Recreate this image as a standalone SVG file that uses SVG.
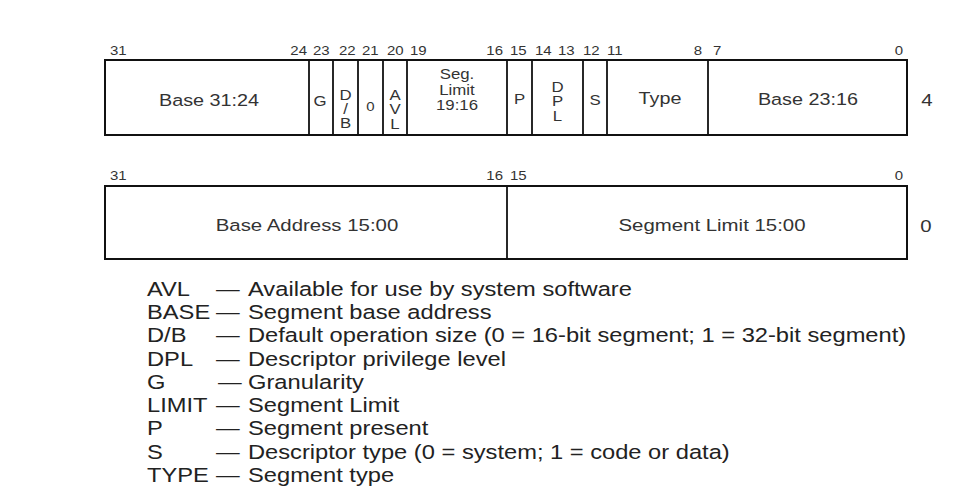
<svg xmlns="http://www.w3.org/2000/svg" width="966" height="495" viewBox="0 0 966 495">
<style>
.box{fill:#fff;stroke:#111;stroke-width:2}
.div{stroke:#111;stroke-width:1.8}
text{font-family:"Liberation Sans",Arial,sans-serif;fill:#333}
.bit{font-size:12.5px}
.lbl{font-size:16.5px;text-anchor:middle}
.sm{font-size:14px;text-anchor:middle}
.row{font-size:17px;text-anchor:middle}
.e{text-anchor:end}
.leg{font-size:19.5px;fill:#222}
</style>
<rect width="966" height="495" fill="#fff"/>
<g id="row4">
<rect class="box" x="105" y="60" width="802" height="75"/>
<g class="div">
<line x1="309" y1="60" x2="309" y2="135"/>
<line x1="333" y1="60" x2="333" y2="135"/>
<line x1="358" y1="60" x2="358" y2="135"/>
<line x1="383" y1="60" x2="383" y2="135"/>
<line x1="407" y1="60" x2="407" y2="135"/>
<line x1="507" y1="60" x2="507" y2="135"/>
<line x1="532" y1="60" x2="532" y2="135"/>
<line x1="583" y1="60" x2="583" y2="135"/>
<line x1="607" y1="60" x2="607" y2="135"/>
<line x1="708" y1="60" x2="708" y2="135"/>
</g>
</g>
<g id="row0">
<rect class="box" x="105" y="186" width="802" height="73"/>
<line class="div" x1="507" y1="186" x2="507" y2="259"/>
</g>
<g id="connectors"></g>
<g transform="scale(1.2 1)">
<g id="bits4">
<text class="bit" x="91.67" y="55">31</text>
<text class="bit e" x="255.83" y="55">24</text>
<text class="bit" x="260.83" y="55">23</text>
<text class="bit" x="282.5" y="55">22</text>
<text class="bit" x="301.67" y="55">21</text>
<text class="bit" x="322.5" y="55">20</text>
<text class="bit" x="341.67" y="55">19</text>
<text class="bit e" x="419.17" y="55">16</text>
<text class="bit" x="425" y="55">15</text>
<text class="bit" x="445.83" y="55">14</text>
<text class="bit" x="465" y="55">13</text>
<text class="bit" x="485.83" y="55">12</text>
<text class="bit" x="505.83" y="55">11</text>
<text class="bit e" x="585" y="55">8</text>
<text class="bit" x="594.17" y="55">7</text>
<text class="bit e" x="752.5" y="55">0</text>
</g>
<g id="bits0">
<text class="bit" x="91.67" y="180">31</text>
<text class="bit e" x="419.17" y="180">16</text>
<text class="bit" x="425" y="180">15</text>
<text class="bit e" x="752.5" y="180">0</text>
</g>
<g id="f-base3124"><text class="lbl" x="174.17" y="106">Base 31:24</text></g>
<g id="f-g"><text class="sm" x="266.67" y="106">G</text></g>
<g id="f-db"><text class="sm" x="287.92" y="100">D</text><text class="sm" x="287.92" y="114">/</text><text class="sm" x="287.92" y="128">B</text></g>
<g id="f-zero"><text class="bit" text-anchor="middle" x="308.75" y="111">0</text></g>
<g id="f-avl"><text class="sm" x="329.17" y="100">A</text><text class="sm" x="329.17" y="114.5">V</text><text class="sm" x="329.17" y="129">L</text></g>
<g id="f-seglimit"><text class="sm" x="380.83" y="79">Seg.</text><text class="sm" x="380.83" y="95">Limit</text><text class="sm" x="380.83" y="110">19:16</text></g>
<g id="f-p"><text class="sm" x="432.92" y="104">P</text></g>
<g id="f-dpl"><text class="sm" x="464.58" y="92">D</text><text class="sm" x="464.58" y="106">P</text><text class="sm" x="464.58" y="121">L</text></g>
<g id="f-s"><text class="sm" x="495.83" y="105">S</text></g>
<g id="f-type"><text class="lbl" x="550" y="104">Type</text></g>
<g id="f-base2316"><text class="lbl" x="673.33" y="105">Base 23:16</text></g>
<g id="off4"><text class="row" x="772.5" y="106">4</text></g>
<g id="f-baseaddr"><text class="row" x="255.83" y="231">Base Address 15:00</text></g>
<g id="f-seglimit16"><text class="row" x="593.33" y="231">Segment Limit 15:00</text></g>
<g id="off0"><text class="row" x="771.67" y="232">0</text></g>
</g>
<g id="legend" transform="scale(1.215 1)">
<text class="leg" x="120.99" y="296">AVL</text><text class="leg" x="177.78" y="296">—</text><text class="leg" x="204.12" y="296">Available for use by system software</text>
<text class="leg" x="120.99" y="319.25">BASE</text><text class="leg" x="177.78" y="319.25">—</text><text class="leg" x="204.12" y="319.25">Segment base address</text>
<text class="leg" x="120.99" y="342.5">D/B</text><text class="leg" x="177.78" y="342.5">—</text><text class="leg" x="204.12" y="342.5">Default operation size (0 = 16-bit segment; 1 = 32-bit segment)</text>
<text class="leg" x="120.99" y="365.75">DPL</text><text class="leg" x="177.78" y="365.75">—</text><text class="leg" x="204.12" y="365.75">Descriptor privilege level</text>
<text class="leg" x="120.99" y="389">G</text><text class="leg" x="179.4" y="389">—</text><text class="leg" x="204.12" y="389">Granularity</text>
<text class="leg" x="120.99" y="412.25">LIMIT</text><text class="leg" x="177.78" y="412.25">—</text><text class="leg" x="204.12" y="412.25">Segment Limit</text>
<text class="leg" x="120.99" y="435.5">P</text><text class="leg" x="177.78" y="435.5">—</text><text class="leg" x="204.12" y="435.5">Segment present</text>
<text class="leg" x="120.99" y="458.75">S</text><text class="leg" x="177.78" y="458.75">—</text><text class="leg" x="204.12" y="458.75">Descriptor type (0 = system; 1 = code or data)</text>
<text class="leg" x="120.99" y="482">TYPE</text><text class="leg" x="177.78" y="482">—</text><text class="leg" x="204.12" y="482">Segment type</text>
</g>
</svg>
